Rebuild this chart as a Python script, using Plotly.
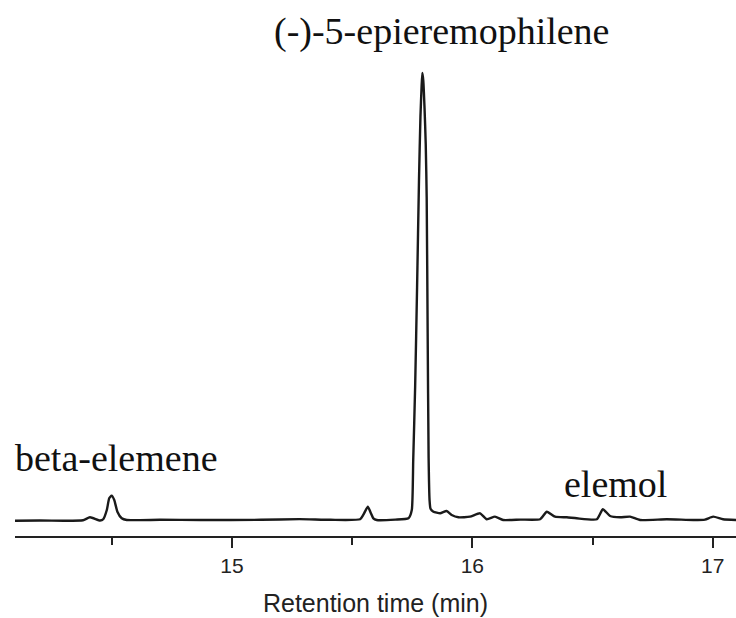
import plotly.graph_objects as go

# Retention time (min) and detector signal (relative, main peak ~100)
time_min = [14.097, 14.20, 14.30, 14.38, 14.409, 14.451, 14.464, 14.479, 14.489, 14.499,
            14.510, 14.523, 14.541, 14.562, 14.70, 14.87, 15.12, 15.28, 15.41, 15.533,
            15.546, 15.565, 15.577, 15.588, 15.602, 15.68, 15.734, 15.748, 15.754, 15.762,
            15.770, 15.778, 15.784, 15.789, 15.792, 15.796, 15.801, 15.806, 15.810, 15.814,
            15.818, 15.822, 15.826, 15.838, 15.866, 15.893, 15.914, 15.942, 15.990, 16.032,
            16.060, 16.094, 16.128, 16.20, 16.282, 16.310, 16.344, 16.393, 16.434, 16.518,
            16.543, 16.573, 16.615, 16.656, 16.698, 16.809, 16.920, 16.968, 17.002, 17.043,
            17.097]
signal = [-0.05, 0.0, -0.05, 0.05, 0.71, 0.0, 0.27, 2.34, 4.95, 5.53,
          4.57, 1.96, 0.49, 0.11, 0.15, 0.10, 0.15, 0.30, 0.15, 0.27,
          1.23, 3.08, 1.74, 0.49, 0.11, 0.20, 0.49, 2.34, 13.5, 30.0,
          52.0, 76.0, 90.0, 97.0, 99.8, 98.0, 92.0, 84.0, 72.0, 42.0,
          14.0, 4.5, 2.6, 1.96, 1.6, 2.12, 1.23, 0.71, 0.85, 1.6,
          0.27, 0.85, 0.11, 0.20, 0.27, 1.96, 0.85, 0.71, 0.49, 0.27,
          2.5, 1.0, 0.71, 0.85, 0.11, 0.27, 0.11, 0.20, 0.85, 0.27,
          0.11]

tick_vals = [15, 16, 17]
tick_text = ["15", "16", "17"]

peak_labels = ["(-)-5-epieremophilene", "beta-elemene", "elemol"]

W, H = 736, 618
ML, MR, MT, MB = 15, 0, 20, 82
PW, PH = W - ML - MR, H - MT - MB


def px(x):
    return (x - ML) / PW


def py(y):
    return (H - MB - y) / PH


fig = go.Figure()
fig.add_trace(go.Scatter(x=time_min, y=signal, mode="lines",
                         line=dict(color="#1a1a1a", width=2.4, shape="spline", smoothing=0.5),
                         hoverinfo="skip", showlegend=False))

label_pos = [(442.5, 31, "center"), (13, 458, "left"), (561.5, 484, "left")]
for text, (x, y, anc) in zip(peak_labels, label_pos):
    fig.add_annotation(text=text, xref="paper", yref="paper", x=px(x), y=py(y),
                       xanchor=anc, yanchor="middle", showarrow=False,
                       font=dict(family="Liberation Serif", size=38, color="#111111"))

fig.update_layout(
    width=W, height=H,
    margin=dict(l=ML, r=MR, t=MT, b=MB, pad=0),
    paper_bgcolor="white", plot_bgcolor="white",
    xaxis=dict(range=[14.097, 17.097], tickvals=tick_vals, ticktext=tick_text,
               ticks="outside", ticklen=10, tickwidth=2, tickcolor="#222222",
               showline=True, linecolor="#222222", linewidth=2,
               showgrid=False, zeroline=False,
               tickfont=dict(family="Liberation Sans", size=21, color="#222222"),
               minor=dict(tickvals=[14.5, 15.5, 16.5], ticks="outside", ticklen=7,
                          tickwidth=2, tickcolor="#222222", showgrid=False),
               title=dict(text="Retention time (min)", standoff=18,
                          font=dict(family="Liberation Sans", size=25, color="#222222"))),
    yaxis=dict(range=[-3.46, 111.6], visible=False, showgrid=False, zeroline=False),
)

fig.write_html("out.html")
